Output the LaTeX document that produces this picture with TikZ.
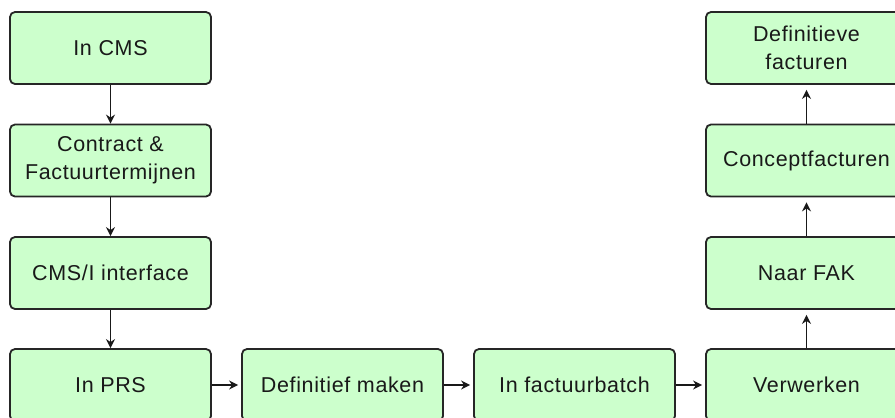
\documentclass[tikz,border=0pt]{standalone}
\usepackage{fontspec}
\setmainfont{Liberation Sans}[LetterSpace=3]
\usetikzlibrary{arrows.meta}
\definecolor{boxfill}{HTML}{CCFFCC}
\definecolor{boxline}{HTML}{262626}
\begin{document}
\begin{tikzpicture}[x=1pt,y=-1pt,
  box/.style={draw=boxline,fill=boxfill,line width=1.8pt,rounded corners=5pt,
    minimum width=201pt,minimum height=72pt,align=center,inner sep=0pt,
    font=\fontsize{21.5}{27.7}\selectfont,text=black!90},
  conn/.style={draw=black!90,line width=1.7pt,-{Stealth[length=9pt,width=9pt]}}]
\clip (0,0) rectangle (895,418);
\fill[white] (0,0) rectangle (895,418);
\node[box] (cms) at (110.5,48) {In CMS};
\node[box] (contract) at (110.5,160.5) {Contract \&\\Factuurtermijnen};
\node[box] (iface) at (110.5,273) {CMS/I interface};
\node[box] (prs) at (110.5,385) {In PRS};
\node[box] (defm) at (342.5,385) {Definitief maken};
\node[box] (batch) at (574.5,385) {In factuurbatch};
\node[box] (verw) at (806.5,385) {Verwerken};
\node[box] (fak) at (806.5,273) {Naar FAK};
\node[box] (concept) at (806.5,160.5) {Conceptfacturen};
\node[box] (deff) at (806.5,48) {Definitieve\\facturen};
\draw[conn] (cms) -- (contract);
\draw[conn] (contract) -- (iface);
\draw[conn] (iface) -- (prs);
\draw[conn,shorten >=3pt] (prs) -- (defm);
\draw[conn,shorten >=3pt] (defm) -- (batch);
\draw[conn,shorten >=3pt] (batch) -- (verw);
\draw[conn,shorten >=5pt] (verw) -- (fak);
\draw[conn,shorten >=5pt] (fak) -- (concept);
\draw[conn,shorten >=5pt] (concept) -- (deff);
\end{tikzpicture}
\end{document}
